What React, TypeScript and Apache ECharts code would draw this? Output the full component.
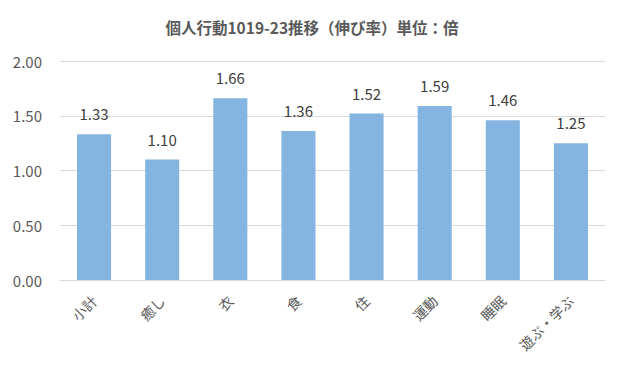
import React, { useEffect, useRef } from "react";
import * as echarts from "echarts";

const categories = ["小計", "癒し", "衣", "食", "住", "運動", "睡眠", "遊ぶ・学ぶ"];
const values = [1.33, 1.1, 1.66, 1.36, 1.52, 1.59, 1.46, 1.25];
const titleText = "個人行動1019-23推移（伸び率）単位：倍";

export default function App() {
  const ref = useRef<HTMLDivElement>(null);
  useEffect(() => {
    const chart = echarts.init(ref.current!, null, { renderer: "svg" });
    const font = "'Noto Sans CJK JP', 'Noto Sans', sans-serif";
    chart.setOption({
      animation: false,
      title: {
        text: titleText,
        left: "center",
        top: 14,
        textStyle: { fontSize: 15.5, fontWeight: "bold", color: "#595959", fontFamily: font },
      },
      grid: { left: 60, right: 19, top: 61, bottom: 95 },
      xAxis: {
        type: "category",
        data: categories,
        axisLine: { lineStyle: { color: "#d9d9d9" } },
        axisTick: { show: false },
        axisLabel: {
          rotate: 45,
          interval: 0,
          fontSize: 14,
          color: "#595959",
          fontFamily: font,
          margin: 18,
        },
      },
      yAxis: {
        type: "value",
        min: 0,
        max: 2,
        interval: 0.5,
        axisLine: { show: false },
        axisTick: { show: false },
        splitLine: { lineStyle: { color: "#d9d9d9" } },
        axisLabel: {
          formatter: (v: number) => v.toFixed(2),
          fontSize: 15,
          color: "#595959",
          fontFamily: font,
          margin: 18,
        },
      },
      series: [
        {
          type: "bar",
          data: values,
          barWidth: "50%",
          itemStyle: { color: "#84b4e0" },
          label: {
            show: true,
            position: "top",
            distance: 13,
            formatter: (p: any) => p.value.toFixed(2),
            fontSize: 15,
            color: "#404040",
            fontFamily: font,
          },
        },
      ],
    });
    return () => chart.dispose();
  }, []);
  return (
    <div
      ref={ref}
      style={{ position: "absolute", left: 0, top: 0, width: 624, height: 375 }}
    />
  );
}
